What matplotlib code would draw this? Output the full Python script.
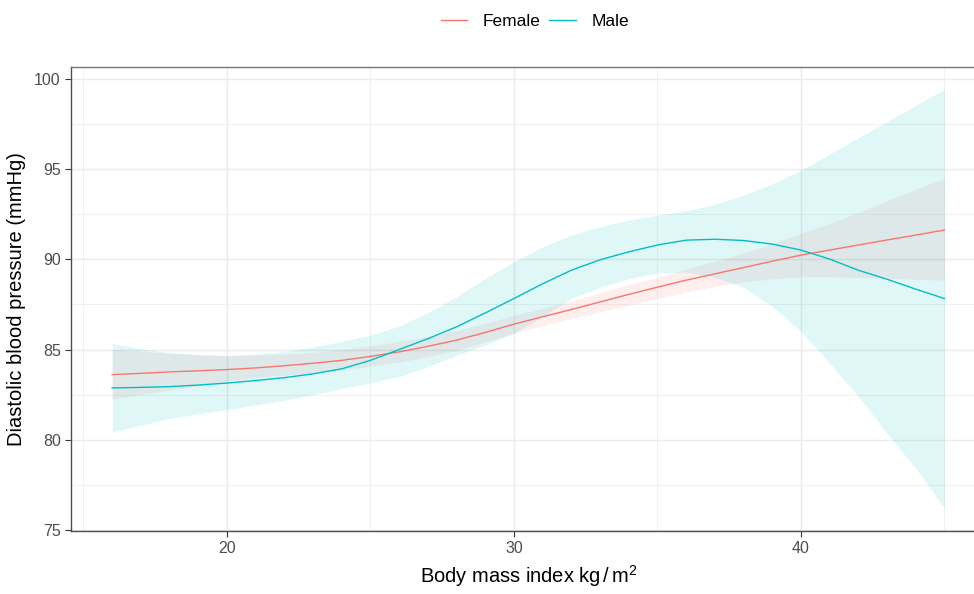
import matplotlib
matplotlib.use("Agg")
import matplotlib.pyplot as plt
from matplotlib.ticker import MultipleLocator
import numpy as np

plt.rcParams["font.family"] = ["Liberation Sans", "DejaVu Sans"]
plt.rcParams["mathtext.fontset"] = "custom"
plt.rcParams["mathtext.rm"] = "Liberation Sans"
plt.rcParams["mathtext.it"] = "Liberation Sans:italic"

# smoothed diastolic BP by BMI, with 95% bands
bmi = [16, 17, 18, 19, 20, 21, 22, 23, 24, 25, 26, 27, 28, 29, 30,
       31, 32, 33, 34, 35, 36, 37, 38, 39, 40, 41, 42, 43, 44, 45]

female_fit = [83.61, 83.68, 83.76, 83.82, 83.89, 83.98, 84.10, 84.24,
              84.40, 84.62, 84.87, 85.18, 85.52, 85.95, 86.41, 86.82,
              87.22, 87.64, 88.06, 88.46, 88.85, 89.20, 89.55, 89.90,
              90.24, 90.52, 90.80, 91.08, 91.35, 91.63]
female_lo = [82.25, 82.50, 82.75, 83.00, 83.25, 83.45, 83.58, 83.72,
             83.88, 84.07, 84.30, 84.60, 84.96, 85.42, 85.92, 86.33,
             86.72, 87.10, 87.46, 87.83, 88.20, 88.50, 88.75, 88.92,
             89.03, 89.03, 89.00, 88.95, 88.90, 88.85]
female_hi = [85.00, 84.90, 84.80, 84.72, 84.65, 84.68, 84.75, 84.85,
             85.00, 85.20, 85.45, 85.72, 86.05, 86.45, 86.90, 87.30,
             87.70, 88.15, 88.60, 89.00, 89.45, 89.90, 90.35, 90.87,
             91.45, 92.00, 92.60, 93.25, 93.90, 94.50]

male_fit = [82.87, 82.90, 82.94, 83.03, 83.14, 83.28, 83.44, 83.65,
            83.93, 84.40, 85.00, 85.60, 86.26, 87.03, 87.83, 88.65,
            89.40, 89.98, 90.42, 90.80, 91.07, 91.12, 91.05, 90.85,
            90.52, 90.02, 89.40, 88.90, 88.35, 87.83]
male_lo = [80.42, 80.80, 81.17, 81.43, 81.67, 81.92, 82.18, 82.50,
           82.83, 83.15, 83.50, 84.05, 84.68, 85.25, 85.89, 86.85,
           87.83, 88.45, 88.94, 89.25, 89.30, 89.00, 88.45, 87.40,
           86.00, 84.25, 82.40, 80.35, 78.40, 76.20]
male_hi = [85.33, 85.05, 84.83, 84.72, 84.68, 84.75, 84.90, 85.15,
           85.45, 85.80, 86.30, 87.05, 87.92, 88.95, 89.87, 90.70,
           91.35, 91.82, 92.18, 92.45, 92.70, 93.05, 93.57, 94.20,
           94.95, 95.85, 96.75, 97.65, 98.55, 99.44]

col_f = "#F8766D"
col_m = "#00BFC4"

fig = plt.figure(figsize=(9.74, 5.94), dpi=100)
ax = fig.add_axes([0.0724, 0.106, 0.94, 0.781])

ax.fill_between(bmi, female_lo, female_hi, color=col_f, alpha=0.12, lw=0)
ax.plot(bmi, female_fit, color=col_f, lw=1.0, label="Female")
ax.fill_between(bmi, male_lo, male_hi, color=col_m, alpha=0.12, lw=0)
ax.plot(bmi, male_fit, color=col_m, lw=1.0, label="Male")

ax.set_xlim(14.55, 46.45)
ax.set_ylim(74.93, 100.67)
ax.xaxis.set_major_locator(MultipleLocator(10))
ax.xaxis.set_minor_locator(MultipleLocator(5))
ax.yaxis.set_major_locator(MultipleLocator(5))
ax.yaxis.set_minor_locator(MultipleLocator(2.5))
ax.grid(which="major", color="#EBEBEB", lw=1.0)
ax.grid(which="minor", color="#EBEBEB", lw=0.5)
ax.set_axisbelow(True)

ax.tick_params(which="major", length=4, width=0.8, color="#333333",
               labelsize=11.5, labelcolor="#4D4D4D", pad=3)
ax.tick_params(which="minor", length=0)
for side in ["left", "bottom"]:
    ax.spines[side].set_color("#4D4D4D")
    ax.spines[side].set_linewidth(1.0)
ax.spines["top"].set_color("#777777")
ax.spines["top"].set_linewidth(1.0)

ax.set_xlabel(r"Body mass index kg$\,/\,$m$^{2}$", fontsize=14.5, labelpad=5)
ax.set_ylabel("Diastolic blood pressure (mmHg)", fontsize=14.5, labelpad=6)

fig.legend(loc="center", bbox_to_anchor=(535 / 974, 1 - 21.5 / 594), ncol=2,
           frameon=False, fontsize=12.5, handlelength=1.5, handletextpad=0.9,
           columnspacing=0.5)

fig.savefig("out.png", dpi=100)
